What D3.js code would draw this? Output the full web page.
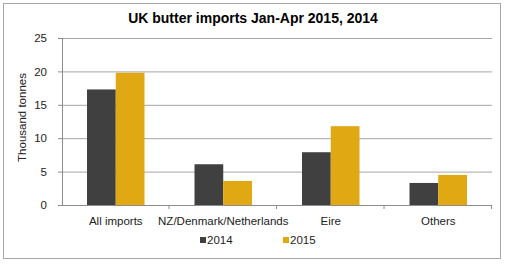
<!DOCTYPE html>
<html>
<head>
<meta charset="utf-8">
<script src="https://cdn.jsdelivr.net/npm/d3@7"></script>
<style>
  body { margin: 0; background: #fff; }
  svg { font-family: Arial, "Liberation Sans", sans-serif; }
</style>
</head>
<body>
<div id="chart"></div>
<script>
var categories = ["All imports", "NZ/Denmark/Netherlands", "Eire", "Others"];
var seriesNames = ["2014", "2015"];
var values2014 = [17.3, 6.1, 7.9, 3.3];
var values2015 = [19.8, 3.6, 11.8, 4.5];
var yTicks = [0, 5, 10, 15, 20, 25];
var colors = ["#404040", "#e0a812"];

var W = 506, H = 265;
var margin = { top: 38, right: 14, bottom: 60, left: 62 };
var innerW = 492 - margin.left, innerH = 205 - margin.top;

var svg = d3.select("#chart").append("svg")
    .attr("width", W)
    .attr("height", H);

// outer frame
svg.append("rect")
    .attr("x", 3.5).attr("y", 3.5)
    .attr("width", 497).attr("height", 255)
    .attr("fill", "none")
    .attr("stroke", "#a6a6a6");

svg.append("text")
    .attr("x", 253).attr("y", 23)
    .attr("text-anchor", "middle")
    .style("font-size", "14px")
    .style("font-weight", "bold")
    .text("UK butter imports Jan-Apr 2015, 2014");

var g = svg.append("g")
    .attr("transform", "translate(" + margin.left + "," + margin.top + ")");

var x = d3.scaleBand().domain(categories).range([0, innerW]).paddingInner(0).paddingOuter(0);
var x1 = d3.scaleBand().domain(seriesNames).range([25, x.bandwidth() - 25]);
var y = d3.scaleLinear().domain([0, 25]).range([innerH, 0]);

// gridlines
g.selectAll(".grid")
    .data(yTicks.filter(function (d) { return d > 0; }))
    .enter().append("line")
    .attr("x1", 0).attr("x2", innerW)
    .attr("y1", function (d) { return y(d) + 0.5; })
    .attr("y2", function (d) { return y(d) + 0.5; })
    .attr("stroke", "#a6a6a6");

var rows = categories.map(function (c, i) {
    return { cat: c, vals: [values2014[i], values2015[i]] };
});

var groups = g.selectAll(".grp")
    .data(rows)
    .enter().append("g")
    .attr("transform", function (d) { return "translate(" + x(d.cat) + ",0)"; });

groups.selectAll("rect")
    .data(function (d) { return d.vals.map(function (v, i) { return { s: seriesNames[i], v: v, i: i }; }); })
    .enter().append("rect")
    .attr("x", function (d) { return x1(d.s); })
    .attr("width", x1.bandwidth())
    .attr("y", function (d) { return y(d.v); })
    .attr("height", function (d) { return innerH - y(d.v); })
    .attr("fill", function (d) { return colors[d.i]; });

// y axis
var yAxis = g.append("g")
    .call(d3.axisLeft(y).tickValues(yTicks).tickSize(4).tickPadding(11));
yAxis.select(".domain").attr("stroke", "#8c8c8c").attr("d", "M0.5," + innerH + "V0");
yAxis.selectAll(".tick line").attr("stroke", "#8c8c8c");
yAxis.selectAll("text").style("font-size", "11.5px").attr("fill", "#222");

// x axis
var xAxis = g.append("g")
    .attr("transform", "translate(0," + innerH + ")")
    .call(d3.axisBottom(x).tickSize(0).tickPadding(12));
xAxis.select(".domain").attr("stroke", "#8c8c8c").attr("d", "M0,0.5H" + innerW);
xAxis.selectAll("text").style("font-size", "11.5px").attr("fill", "#222");

g.selectAll(".xtick")
    .data(categories)
    .enter().append("line")
    .attr("x1", function (d) { return x(d) + x.bandwidth() - 0.5; })
    .attr("x2", function (d) { return x(d) + x.bandwidth() - 0.5; })
    .attr("y1", innerH).attr("y2", innerH + 4)
    .attr("stroke", "#8c8c8c");

svg.append("text")
    .attr("transform", "translate(26," + (margin.top + innerH / 2 - 4) + ") rotate(-90)")
    .attr("text-anchor", "middle")
    .style("font-size", "11.5px")
    .attr("fill", "#222")
    .text("Thousand tonnes");

// legend
var legend = svg.append("g").attr("transform", "translate(200,244)");
var items = legend.selectAll(".item")
    .data(seriesNames)
    .enter().append("g")
    .attr("transform", function (d, i) { return "translate(" + (i * 83) + ",0)"; });
items.append("rect")
    .attr("x", 0).attr("y", -7)
    .attr("width", 6).attr("height", 6)
    .attr("fill", function (d, i) { return colors[i]; });
items.append("text")
    .attr("x", 7).attr("y", 0)
    .style("font-size", "11.5px")
    .attr("fill", "#222")
    .text(function (d) { return d; });
</script>
</body>
</html>
